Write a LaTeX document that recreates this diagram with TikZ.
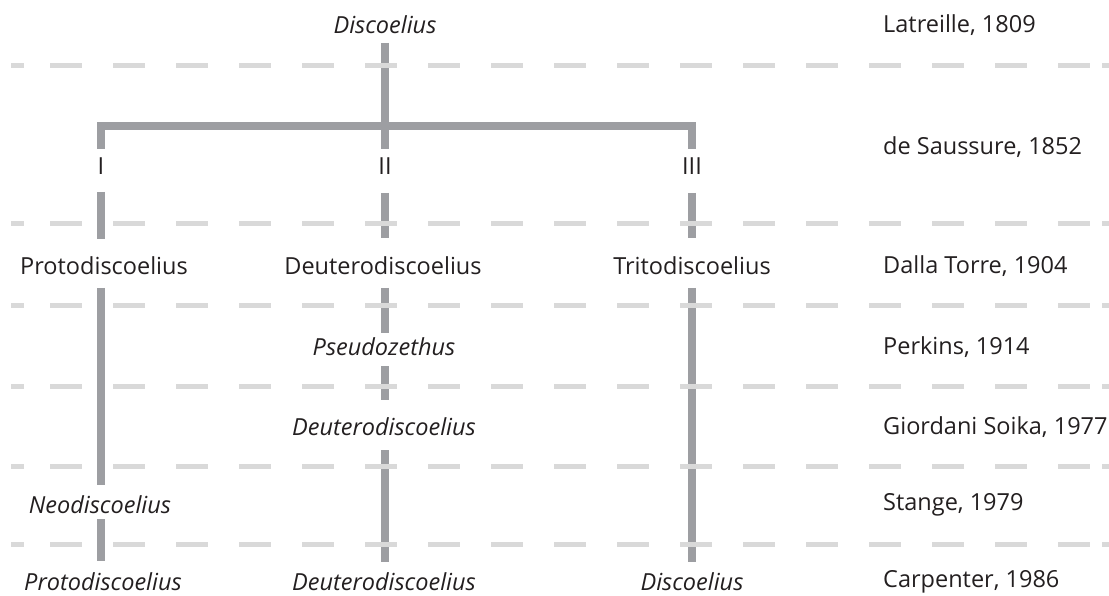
\documentclass[tikz,border=0pt]{standalone}
\usepackage{fontspec}
\setmainfont{Open Sans}
\usetikzlibrary{calc}
\begin{document}
\begin{tikzpicture}[x=1pt,y=-1pt,
  txt/.style={inner sep=0pt,text=textcol,font=\fontsize{23.5}{26}\selectfont},
  it/.style={txt,font=\fontsize{23.5}{26}\selectfont\itshape},
  auth/.style={txt,anchor=west},
  branch/.style={draw=linecol,line width=8pt},
  sep/.style={draw=dashcol,line width=5pt,dash pattern=on 32pt off 31pt},
  sepend/.style={draw=dashcol,line width=5pt}]
\definecolor{textcol}{HTML}{231F20}
\definecolor{linecol}{HTML}{9D9EA2}
\definecolor{dashcol}{HTML}{D9D9D9}
\useasboundingbox[fill=white] (0,0) rectangle (1109,596);
% column axes
\coordinate (cI) at (101,0);
\coordinate (cII) at (385,0);
\coordinate (cIII) at (692,0);
% taxon labels
\node[it]  (disc)   at (385,25)  {Discoelius};
\node[txt] (I)      at (101,166) {I};
\node[txt] (II)     at (385,166) {II};
\node[txt] (III)    at (692,166) {III};
\node[txt] (proto)  at (104,266) {Protodiscoelius};
\node[txt] (deut)   at (383,266) {Deuterodiscoelius};
\node[txt] (trito)  at (692,266) {Tritodiscoelius};
\node[it]  (pseudo) at (384,347) {Pseudozethus};
\node[it]  (deut2)  at (384,427) {Deuterodiscoelius};
\node[it]  (neo)    at (100,505) {Neodiscoelius};
\node[it]  (proto2) at (103,582) {Protodiscoelius};
\node[it]  (deut3)  at (384,582) {Deuterodiscoelius};
\node[it]  (disc2)  at (692,582) {Discoelius};
% authors
\node[auth] (a1) at (883,25)  {Latreille, 1809};
\node[auth] (a2) at (883,147) {de Saussure, 1852};
\node[auth] (a3) at (883,266) {Dalla Torre, 1904};
\node[auth] (a4) at (883,347) {Perkins, 1914};
\node[auth] (a5) at (883,427) {Giordani Soika, 1977};
\node[auth] (a6) at (883,505) {Stange, 1979};
\node[auth] (a7) at (883,582) {Carpenter, 1986};
% bracket
\coordinate (bl) at (101,126);
\coordinate (br) at (692,126);
\draw[branch] ($(cII|-disc)+(0,18)$) -- ($(cII|-II)+(0,-17)$);
\draw[branch,line join=miter] ($(cI|-I)+(0,-17)$) -- (bl) -- (br) -- ($(cIII|-III)+(0,-17)$);
% column I
\draw[branch] ($(cI|-I)+(0,26)$) -- ($(cI|-proto)+(0,-27)$);
\draw[branch] ($(cI|-proto)+(0,22)$) -- ($(cI|-neo)+(0,-20)$);
\draw[branch] ($(cI|-neo)+(0,14)$) -- ($(cI|-proto2)+(0,-21)$);
% column II
\draw[branch] ($(cII|-II)+(0,27)$) -- ($(cII|-deut)+(0,-28)$);
\draw[branch] ($(cII|-deut)+(0,22)$) -- ($(cII|-pseudo)+(0,-14)$);
\draw[branch] ($(cII|-pseudo)+(0,19)$) -- ($(cII|-deut2)+(0,-27)$);
\draw[branch] ($(cII|-deut2)+(0,23)$) -- ($(cII|-deut3)+(0,-20)$);
% column III
\draw[branch] ($(cIII|-III)+(0,27)$) -- ($(cIII|-trito)+(0,-28)$);
\draw[branch] ($(cIII|-trito)+(0,22)$) -- ($(cIII|-disc2)+(0,-20)$);
% separators
\foreach \y in {66,224,305,386,466,544}{
  \draw[sep] (50,\y) -- (1090,\y);
  \draw[sepend] (11,\y) -- (24,\y);
  \draw[sepend] (1102,\y) -- (1109,\y);
}
\end{tikzpicture}
\end{document}
